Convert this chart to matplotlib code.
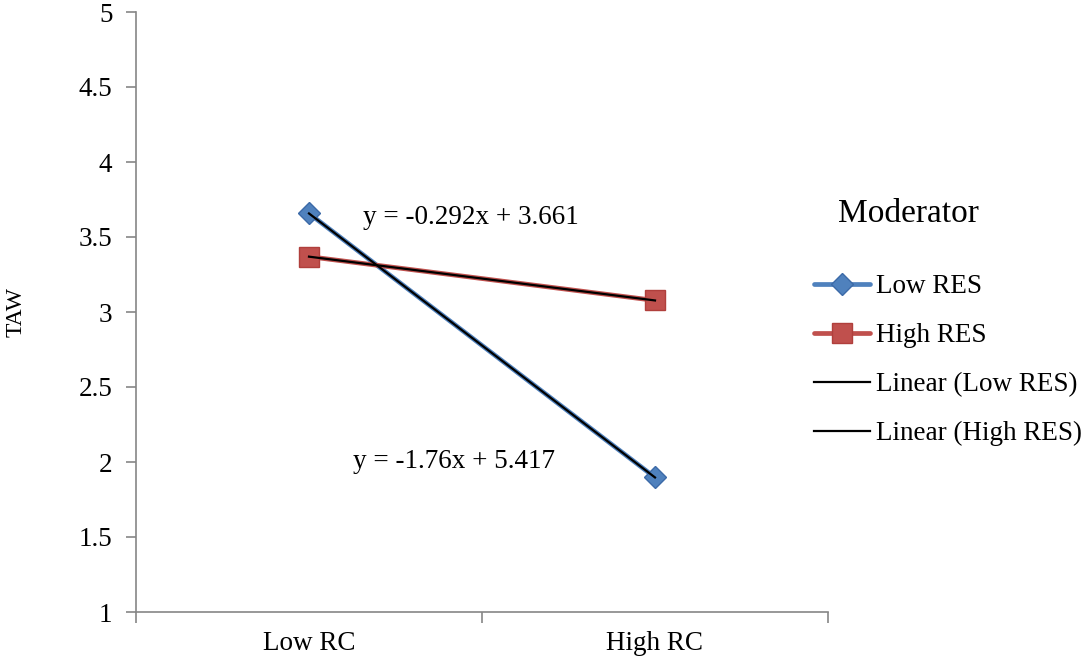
import matplotlib
matplotlib.use("Agg")
import matplotlib.pyplot as plt
from matplotlib.lines import Line2D
import numpy as np

plt.rcParams["font.family"] = ["Liberation Serif", "DejaVu Serif"]

categories = ["Low RC", "High RC"]
low_res = [3.657, 1.897]
high_res = [3.369, 3.077]
yticks = [1, 1.5, 2, 2.5, 3, 3.5, 4, 4.5, 5]
ytick_labels = ["1", "1.5", "2", "2.5", "3", "3.5", "4", "4.5", "5"]
eq_low = "y = -1.76x + 5.417"
eq_high = "y = -0.292x + 3.661"

blue = "#4F81BD"
blue_edge = "#3C6AA8"
red = "#C0504D"
red_edge = "#B03F3C"
grey = "#868686"

W, H = 1084, 660
fig = plt.figure(figsize=(W/100, H/100), dpi=100)
ax = fig.add_axes([136/W, 48/H, 692/W, 600/H])

x = np.arange(1, len(categories)+1)

ax.plot(x, low_res, color=blue, linewidth=3.4, marker="D", markersize=11.5,
        markerfacecolor=blue, markeredgecolor=blue_edge, solid_capstyle="round", zorder=3)
ax.plot(x, high_res, color=red, linewidth=3.4, marker="s", markersize=15,
        markerfacecolor=red, markeredgecolor=red_edge, solid_capstyle="round", zorder=3)

# linear trendlines
for series in [low_res, high_res]:
    k, b = np.polyfit(x, series, 1)
    ax.plot(x, k*x + b, color="black", linewidth=1.6, zorder=4)

ax.text(1.468, 3.627, eq_high, fontsize=19.5, ha="center", va="center")
ax.text(1.419, 2.0, eq_low, fontsize=19.5, ha="center", va="center")

ax.set_xlim(0.5, 2.5)
ax.set_ylim(1, 5)
ax.set_yticks(yticks)
ax.set_yticklabels(ytick_labels, fontsize=19.5)
ax.set_xticks(x)
ax.set_xticklabels(categories, fontsize=19.5)
ax.set_xticks([0.5, 1.5, 2.5], minor=True)
ax.tick_params(axis="x", which="major", length=0, pad=14)
ax.tick_params(axis="x", which="minor", length=8, color=grey, width=1.2)
ax.tick_params(axis="y", length=7, color=grey, width=1.2, pad=10)
ax.spines["top"].set_visible(False)
ax.spines["right"].set_visible(False)
ax.spines["left"].set_color(grey)
ax.spines["bottom"].set_color(grey)
ax.spines["left"].set_linewidth(1.2)
ax.spines["bottom"].set_linewidth(1.2)

fig.text(16/W, 1 - 312/H, "TAW", rotation=90, fontsize=17, ha="center", va="center")
fig.text(838/W, 1 - 214/H, "Moderator", fontsize=24, ha="left", va="center")

handles = [
    Line2D([], [], color=blue, linewidth=3.4, marker="D", markersize=11,
           markerfacecolor=blue, markeredgecolor=blue_edge, solid_capstyle="round"),
    Line2D([], [], color=red, linewidth=3.4, marker="s", markersize=14,
           markerfacecolor=red, markeredgecolor=red_edge, solid_capstyle="round"),
    Line2D([], [], color="black", linewidth=1.6),
    Line2D([], [], color="black", linewidth=1.6),
]
labels = ["Low RES", "High RES", "Linear (Low RES)", "Linear (High RES)"]
fig.legend(handles, labels, loc="upper left", bbox_to_anchor=(814/W, 1 - 274/H),
           frameon=False, fontsize=19.5, borderpad=0, borderaxespad=0,
           handlelength=2.07, handletextpad=0.22, labelspacing=0.89)

fig.savefig("out.png", dpi=100)
